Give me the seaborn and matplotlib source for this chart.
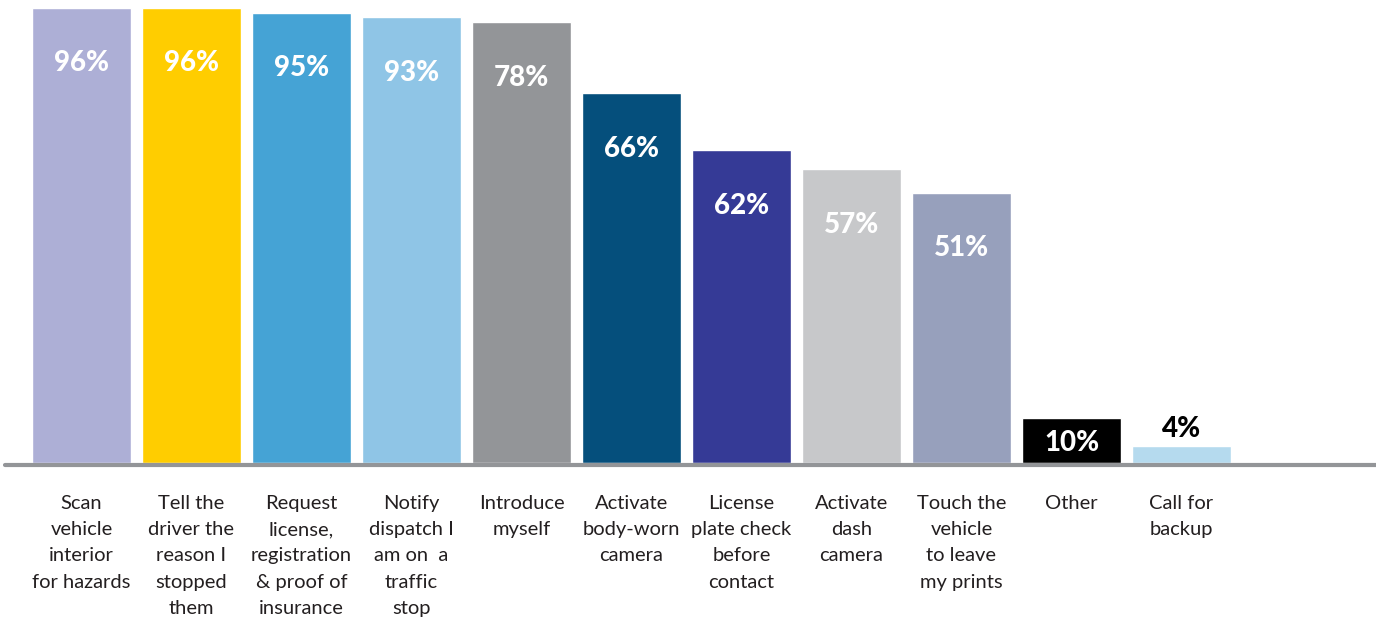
import matplotlib
matplotlib.use("Agg")
import matplotlib.pyplot as plt
import seaborn as sns
import pandas as pd

categories = [
    "Scan\nvehicle\ninterior\nfor hazards",
    "Tell the\ndriver the\nreason I\nstopped\nthem",
    "Request\nlicense,\nregistration\n& proof of\ninsurance",
    "Notify\ndispatch I\nam on  a\ntraffic\nstop",
    "Introduce\nmyself",
    "Activate\nbody-worn\ncamera",
    "License\nplate check\nbefore\ncontact",
    "Activate\ndash\ncamera",
    "Touch the\nvehicle\nto leave\nmy prints",
    "Other",
    "Call for\nbackup",
]
# bar heights as drawn in the picture
bar_heights = [96, 96, 95, 94, 93, 78, 66, 62, 57, 9.5, 3.6]
# value labels as printed
value_labels = [96, 96, 95, 93, 78, 66, 62, 57, 51, 10, 4]
colors = ["#ADAFD6", "#FFCD00", "#45A3D5", "#8FC5E6", "#939598", "#054F7C",
          "#353A96", "#C7C8CA", "#97A0BC", "#000000", "#B5DAEE"]

df = pd.DataFrame({"cat": categories, "h": bar_heights})

sns.set_theme(style="white")
plt.rcParams["font.family"] = ["Lato", "DejaVu Sans"]

W, H = 1376, 619
fig = plt.figure(figsize=(W / 100, H / 100), dpi=100)
base_px = 463
ax = fig.add_axes([0, (H - base_px) / H, 1, base_px / H])

sns.barplot(data=df, x="cat", y="h", hue="cat", palette=colors, legend=False,
            width=0.9, saturation=1, ax=ax)

unit = 110.0
ax.set_xlim(-81.5 / unit, (W - 81.5) / unit)
px_per = 4.74
ax.set_ylim(0, base_px / px_per)

for s in ax.spines.values():
    s.set_visible(False)
ax.set_xlabel("")
ax.set_ylabel("")
ax.set_yticks([])
ax.set_xticks([])
ax.axhline(-2 / px_per, xmin=5 / W, xmax=1, color="#939598", lw=3, clip_on=False, zorder=5)

for i, c in enumerate(categories):
    ax.text(i, -6.8, c, ha="center", va="top", fontsize=14.5, color="#231F20",
            linespacing=1.65, multialignment="center", clip_on=False)

for i, (h, v) in enumerate(zip(bar_heights, value_labels)):
    if h > 20:
        y, col = h - 11.7, "white"
    elif h > 6:
        y, col = h / 2 - 0.5, "white"
    else:
        y, col = h + 3.6, "black"
    ax.text(i, y, f"{v}%", ha="center", va="center", color=col, fontsize=20,
            fontweight="black")

fig.savefig("out.png", dpi=100)
